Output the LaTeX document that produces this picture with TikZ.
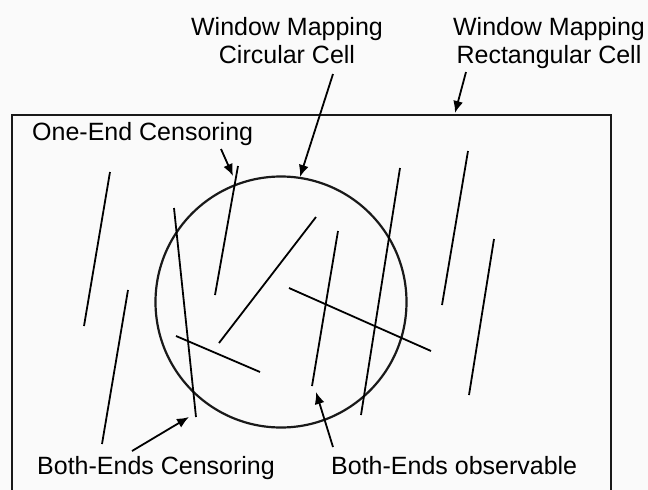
\documentclass[tikz,border=0pt]{standalone}
\usepackage{fontspec}
\setmainfont{Liberation Sans}
\usetikzlibrary{arrows.meta}
\begin{document}
\begin{tikzpicture}[x=1pt,y=-1pt,
  lbl/.style={inner sep=0pt,font=\fontsize{25}{28}\selectfont,text=black},
  seg/.style={line width=1.8pt,black},
  callout/.style={line width=1.8pt,black,-{Latex[length=12pt,width=10pt]}},
  frame/.style={line width=2.2pt,black!90}]
\useasboundingbox[fill={rgb,255:red,250;green,250;blue,250}] (0,0) rectangle (648,490);
\clip (0,0) rectangle (648,490);
% cells
\draw[frame] (12,115) rectangle (611,520);
\node[circle,draw,frame,minimum size=251pt,inner sep=0pt] (circ) at (281,302) {};
% labels
\node[lbl,align=center,anchor=north] (lc) at (287,17) {Window Mapping\\Circular Cell};
\node[lbl,align=center,anchor=north] (lr) at (549,17) {Window Mapping\\Rectangular Cell};
\node[lbl,anchor=base west] (oe) at (32,140) {One-End Censoring};
\node[lbl,anchor=base west] (bc) at (37,474) {Both-Ends Censoring};
\node[lbl,anchor=base west] (bo) at (331,474) {Both-Ends observable};
% fibre segments
\draw[seg] (110,172) -- (84,326);
\draw[seg] (128,290) -- (102,444);
\draw[seg] (238,166) -- (215,295);
\draw[seg] (174,208) -- (196,417);
\draw[seg] (316,217) -- (219,343);
\draw[seg] (176,336) -- (260,372);
\draw[seg] (338,231) -- (312,386);
\draw[seg] (289,288) -- (431,351);
\draw[seg] (400,168) -- (361,415);
\draw[seg] (468,151) -- (442,305);
\draw[seg] (494,239) -- (469,395);
% callout coordinates
\coordinate (t1) at (333,74);  \coordinate (h1) at (300,177);
\coordinate (t2) at (466,72);  \coordinate (h2) at (455,113);
\coordinate (t3) at (221,149); \coordinate (h3) at (233,176);
\coordinate (t4) at (132,451); \coordinate (h4) at (189,417);
\coordinate (t5) at (333,447); \coordinate (h5) at (316,392);
\draw[callout] (t1) -- (h1);
\draw[callout] (t2) -- (h2);
\draw[callout] (t3) -- (h3);
\draw[callout] (t4) -- (h4);
\draw[callout] (t5) -- (h5);
\end{tikzpicture}
\end{document}
